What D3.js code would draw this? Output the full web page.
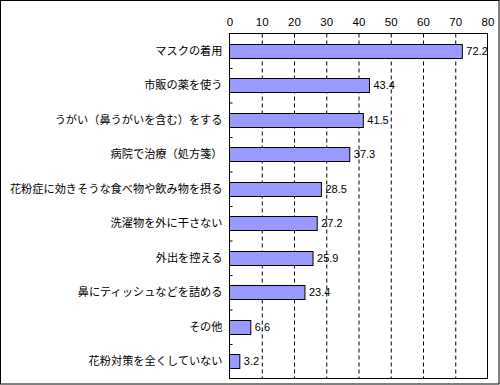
<!DOCTYPE html>
<html>
<head>
<meta charset="utf-8">
<title>花粉対策</title>
<script src="https://d3js.org/d3.v7.min.js"></script>
<style>
body{margin:0;background:#fff;}
svg{display:block;}
.cat text{font-family:"Noto Sans CJK JP",sans-serif;font-size:11.2px;fill:#000;}
.val{font-family:"Liberation Sans",sans-serif;font-size:11px;fill:#000;}
.topAxis text{font-family:"Liberation Sans",sans-serif;font-size:11.5px;fill:#000;}
.grid line{stroke:#000;stroke-dasharray:4,3;}
.domain{display:none;}
</style>
</head>
<body>
<svg id="chart" width="500" height="385"></svg>
<script>
// 項目と割合(%)
var categories = ["マスクの着用","市販の薬を使う","うがい（鼻うがいを含む）をする","病院で治療（処方箋）",
  "花粉症に効きそうな食べ物や飲み物を摂る","洗濯物を外に干さない","外出を控える",
  "鼻にティッシュなどを詰める","その他","花粉対策を全くしていない"];
var values = [72.2,43.4,41.5,37.3,28.5,27.2,25.9,23.4,6.6,3.2];
var tickValues = [0,10,20,30,40,50,60,70,80];

var plotL = 229.5, plotR = 487.5, plotT = 33.5, plotB = 378.5;

var svg = d3.select("#chart");

// 外枠
svg.append("rect").attr("x",0.5).attr("y",0.5).attr("width",498.5).attr("height",383.5)
  .attr("fill","#fff").attr("stroke","#000");

var x = d3.scaleLinear().domain([0,80]).range([plotL,plotR]);
var y = d3.scaleBand().domain(categories).range([plotT,plotB]);
var barH = y.bandwidth()*0.41;

// 縦の点線
svg.append("g").attr("class","grid")
  .attr("transform","translate(0,"+plotT+")")
  .call(d3.axisBottom(x).tickValues(tickValues.slice(1,-1)).tickSize(plotB-plotT).tickFormat(""));

// 上の目盛り数値
svg.append("g").attr("class","topAxis")
  .attr("transform","translate(0,"+(plotT-12)+")")
  .call(d3.axisTop(x).tickValues(tickValues).tickSize(0).tickPadding(0))
  .selectAll("text").attr("dy","0.36em");

// 棒
svg.append("g").selectAll("rect").data(values).enter().append("rect")
  .attr("x",plotL)
  .attr("y",function(d,i){ return Math.round(y(categories[i]) + (y.bandwidth()-barH)/2) + 0.5; })
  .attr("width",function(d){ return x(d)-plotL; })
  .attr("height",Math.round(barH))
  .attr("fill","#9999ff").attr("stroke","#000");

// 数値ラベル
svg.append("g").selectAll("text").data(values).enter().append("text")
  .attr("class","val")
  .attr("x",function(d){ return x(d)+4; })
  .attr("y",function(d,i){ return y(categories[i]) + y.bandwidth()/2; })
  .attr("dy","0.36em")
  .text(function(d){ return d.toFixed(1); });

// 枠
svg.append("rect").attr("x",plotL).attr("y",plotT).attr("width",plotR-plotL).attr("height",plotB-plotT)
  .attr("fill","none").attr("stroke","#000");

// 左の目盛り(項目の境目)
var idx = d3.scaleLinear().domain([0,categories.length]).range([plotT,plotB]);
svg.append("g").attr("class","ticks")
  .attr("transform","translate("+plotL+",0)")
  .call(d3.axisRight(idx).tickValues(d3.range(1,categories.length)).tickSize(3).tickFormat(""))
  .selectAll("line").attr("stroke","#000");

// 項目名
svg.append("g").attr("class","cat")
  .attr("transform","translate("+(plotL-7)+",0)")
  .call(d3.axisLeft(y).tickSize(0).tickPadding(0))
  .selectAll("text").attr("dy","0.36em");
</script>
</body>
</html>
